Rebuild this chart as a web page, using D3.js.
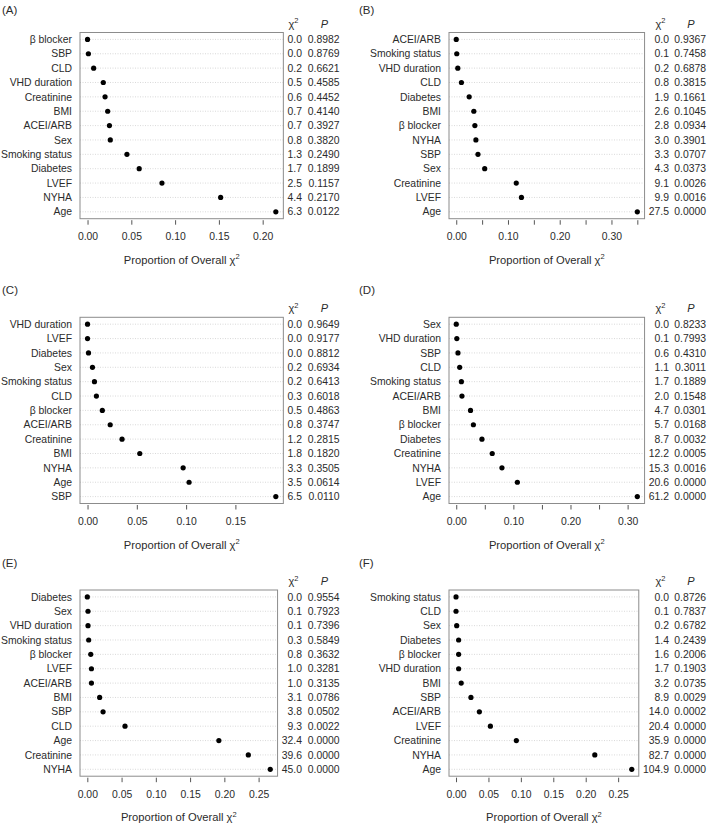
<!DOCTYPE html>
<html>
<head>
<meta charset="utf-8">
<script src="https://cdn.jsdelivr.net/npm/d3@7"></script>
<style>
  body { margin: 0; background: #fff; }
  svg { display: block; }
  text { font-family: "Liberation Sans", Arial, sans-serif; fill: #2b2b2b; }
</style>
</head>
<body>
<svg id="fig" width="709" height="824"></svg>
<script>
// --- data (top row first) ---
var labelsA = ["β blocker","SBP","CLD","VHD duration","Creatinine","BMI","ACEI/ARB","Sex","Smoking status","Diabetes","LVEF","NYHA","Age"];
var chiA = ["0.0","0.0","0.2","0.5","0.6","0.7","0.7","0.8","1.3","1.7","2.5","4.4","6.3"];
var pA = ["0.8982","0.8769","0.6621","0.4585","0.4452","0.4140","0.3927","0.3820","0.2490","0.1899","0.1157","0.2170","0.0122"];
var propA = [0.000,0.001,0.007,0.018,0.020,0.023,0.025,0.026,0.045,0.059,0.085,0.152,0.215];
var ticksA = [0, 0.05, 0.10, 0.15, 0.20];

var labelsB = ["ACEI/ARB","Smoking status","VHD duration","CLD","Diabetes","BMI","β blocker","NYHA","SBP","Sex","Creatinine","LVEF","Age"];
var chiB = ["0.0","0.1","0.2","0.8","1.9","2.6","2.8","3.0","3.3","4.3","9.1","9.9","27.5"];
var pB = ["0.9367","0.7458","0.6878","0.3815","0.1661","0.1045","0.0934","0.3901","0.0707","0.0373","0.0026","0.0016","0.0000"];
var propB = [0.000,0.001,0.003,0.010,0.025,0.034,0.036,0.038,0.042,0.055,0.116,0.126,0.350];
var ticksB = [0, 0.05, 0.10, 0.15, 0.20, 0.25, 0.30, 0.35];

var labelsC = ["VHD duration","LVEF","Diabetes","Sex","Smoking status","CLD","β blocker","ACEI/ARB","Creatinine","BMI","NYHA","Age","SBP"];
var chiC = ["0.0","0.0","0.0","0.2","0.2","0.3","0.5","0.8","1.2","1.8","3.3","3.5","6.5"];
var pC = ["0.9649","0.9177","0.8812","0.6934","0.6413","0.6018","0.4863","0.3747","0.2815","0.1820","0.3505","0.0614","0.0110"];
var propC = [0.000,0.000,0.001,0.005,0.007,0.009,0.015,0.023,0.035,0.053,0.097,0.103,0.191];
var ticksC = [0, 0.05, 0.10, 0.15];

var labelsD = ["Sex","VHD duration","SBP","CLD","Smoking status","ACEI/ARB","BMI","β blocker","Diabetes","Creatinine","NYHA","LVEF","Age"];
var chiD = ["0.0","0.1","0.6","1.1","1.7","2.0","4.7","5.7","8.7","12.2","15.3","20.6","61.2"];
var pD = ["0.8233","0.7993","0.4310","0.3011","0.1889","0.1548","0.0301","0.0168","0.0032","0.0005","0.0016","0.0000","0.0000"];
var propD = [0.000,0.001,0.003,0.006,0.009,0.010,0.025,0.030,0.045,0.063,0.080,0.107,0.317];
var ticksD = [0, 0.05, 0.10, 0.15, 0.20, 0.25, 0.30];

var labelsE = ["Diabetes","Sex","VHD duration","Smoking status","β blocker","LVEF","ACEI/ARB","BMI","SBP","CLD","Age","Creatinine","NYHA"];
var chiE = ["0.0","0.1","0.1","0.3","0.8","1.0","1.0","3.1","3.8","9.3","32.4","39.6","45.0"];
var pE = ["0.9554","0.7923","0.7396","0.5849","0.3632","0.3281","0.3135","0.0786","0.0502","0.0022","0.0000","0.0000","0.0000"];
var propE = [0.000,0.001,0.001,0.002,0.005,0.006,0.006,0.018,0.023,0.055,0.192,0.235,0.267];
var ticksE = [0, 0.05, 0.10, 0.15, 0.20, 0.25];

var labelsF = ["Smoking status","CLD","Sex","Diabetes","β blocker","VHD duration","BMI","SBP","ACEI/ARB","LVEF","Creatinine","NYHA","Age"];
var chiF = ["0.0","0.1","0.2","1.4","1.6","1.7","3.2","8.9","14.0","20.4","35.9","82.7","104.9"];
var pF = ["0.8726","0.7837","0.6782","0.2439","0.2006","0.1903","0.0735","0.0029","0.0002","0.0000","0.0000","0.0000","0.0000"];
var propF = [0.000,0.000,0.001,0.004,0.004,0.004,0.008,0.023,0.036,0.053,0.093,0.214,0.271];
var ticksF = [0, 0.05, 0.10, 0.15, 0.20, 0.25];

var panels = [
  { tag: "(A)", col: 0, row: 0, labels: labelsA, chi: chiA, p: pA, prop: propA, ticks: ticksA },
  { tag: "(B)", col: 1, row: 0, labels: labelsB, chi: chiB, p: pB, prop: propB, ticks: ticksB },
  { tag: "(C)", col: 0, row: 1, labels: labelsC, chi: chiC, p: pC, prop: propC, ticks: ticksC },
  { tag: "(D)", col: 1, row: 1, labels: labelsD, chi: chiD, p: pD, prop: propD, ticks: ticksD },
  { tag: "(E)", col: 0, row: 2, labels: labelsE, chi: chiE, p: pE, prop: propE, ticks: ticksE },
  { tag: "(F)", col: 1, row: 2, labels: labelsF, chi: chiF, p: pF, prop: propF, ticks: ticksF }
];

// --- layout ---
var cols = [
  { tagX: 2, frameL: 80, chiR: 302, pR: 339.5 },
  { tagX: 359, frameL: 449, chiR: 669, pR: 706 }
];
var rows = [
  { tagY: 14, top: 32.5 },
  { tagY: 294, top: 317.3 },
  { tagY: 567, top: 590 }
];
var frameH = 186.2;
var fs = 10.4;

var svg = d3.select("#fig");

panels.forEach(function(pn) {
  var c = cols[pn.col], r = rows[pn.row];
  var g = svg.append("g");
  var n = pn.labels.length;

  g.append("text")
    .attr("x", c.tagX).attr("y", r.tagY)
    .style("font-size", "11.5px")
    .text(pn.tag);

  // chi-square column first, its width sets the right edge of the frame
  var chiText = g.selectAll(".chi")
    .data(pn.chi)
    .enter()
    .append("text")
      .attr("class", "chi")
      .attr("x", c.chiR)
      .attr("text-anchor", "end")
      .style("font-size", fs + "px")
      .text(function(d) { return d; });
  var maxW = 0;
  chiText.each(function() { maxW = Math.max(maxW, this.getComputedTextLength()); });
  var frameR = c.chiR - maxW - 4.2;

  var top = r.top, bottom = r.top + frameH;
  var ext = d3.extent(pn.prop);
  var span = ext[1] - ext[0];
  var x = d3.scaleLinear()
    .domain([ext[0] - 0.04 * span, ext[1] + 0.04 * span])
    .range([c.frameL, frameR]);
  var y = d3.scaleLinear()
    .domain([1 - 0.04 * (n - 1), n + 0.04 * (n - 1)])
    .range([top, bottom]);

  chiText.attr("y", function(d, i) { return y(i + 1); }).attr("dy", "0.35em");

  g.selectAll(".pv")
    .data(pn.p)
    .enter()
    .append("text")
      .attr("x", c.pR)
      .attr("y", function(d, i) { return y(i + 1); })
      .attr("dy", "0.35em")
      .attr("text-anchor", "end")
      .style("font-size", fs + "px")
      .text(function(d) { return d; });

  // column headers
  var hdr = g.append("text")
    .attr("x", c.chiR - 3.5)
    .attr("y", top - 5)
    .attr("text-anchor", "end")
    .style("font-size", "11px");
  hdr.append("tspan").text("χ");
  hdr.append("tspan").attr("dy", -4.5).style("font-size", "7.5px").text("2");
  g.append("text")
    .attr("x", c.pR - 15)
    .attr("y", top - 5)
    .attr("text-anchor", "middle")
    .style("font-size", "11px")
    .style("font-style", "italic")
    .text("P");

  // dotted guide lines
  g.selectAll(".grid")
    .data(pn.labels)
    .enter()
    .append("line")
      .attr("x1", c.frameL).attr("x2", frameR)
      .attr("y1", function(d, i) { return y(i + 1); })
      .attr("y2", function(d, i) { return y(i + 1); })
      .attr("stroke", "#cfcfcf")
      .attr("stroke-width", 0.8)
      .attr("stroke-dasharray", "1,1.5");

  g.append("rect")
    .attr("x", c.frameL).attr("y", top)
    .attr("width", frameR - c.frameL).attr("height", frameH)
    .attr("fill", "none")
    .attr("stroke", "#8c8c8c")
    .attr("stroke-width", 1);

  g.selectAll(".lab")
    .data(pn.labels)
    .enter()
    .append("text")
      .attr("x", c.frameL - 8)
      .attr("y", function(d, i) { return y(i + 1); })
      .attr("dy", "0.35em")
      .attr("text-anchor", "end")
      .style("font-size", fs + "px")
      .text(function(d) { return d; });

  g.selectAll(".dot")
    .data(pn.prop)
    .enter()
    .append("circle")
      .attr("cx", function(d) { return x(d); })
      .attr("cy", function(d, i) { return y(i + 1); })
      .attr("r", 2.6)
      .attr("fill", "#000");

  // x axis: R style, ticks only; skip labels that would crowd
  var step = x(0.05) - x(0);
  var axis = d3.axisBottom(x)
    .tickValues(pn.ticks)
    .tickSize(4.5)
    .tickPadding(8)
    .tickFormat(function(d, i) {
      if (step < 30 && i % 2 === 1) return "";
      return d3.format(".2f")(d);
    });
  var ax = g.append("g")
    .attr("transform", "translate(0," + (bottom + 1.5) + ")")
    .call(axis);
  ax.select(".domain").remove();
  ax.selectAll("line").attr("stroke", "#555");
  ax.selectAll("text")
    .style("font-size", fs + "px")
    .style("font-family", "'Liberation Sans', Arial, sans-serif")
    .attr("fill", "#2b2b2b");

  var title = g.append("text")
    .attr("x", (c.frameL + frameR) / 2)
    .attr("y", bottom + 45)
    .attr("text-anchor", "middle")
    .style("font-size", "11.2px");
  title.append("tspan").text("Proportion of Overall χ");
  title.append("tspan").attr("dy", -4.5).style("font-size", "7.5px").text("2");
});
</script>
</body>
</html>
